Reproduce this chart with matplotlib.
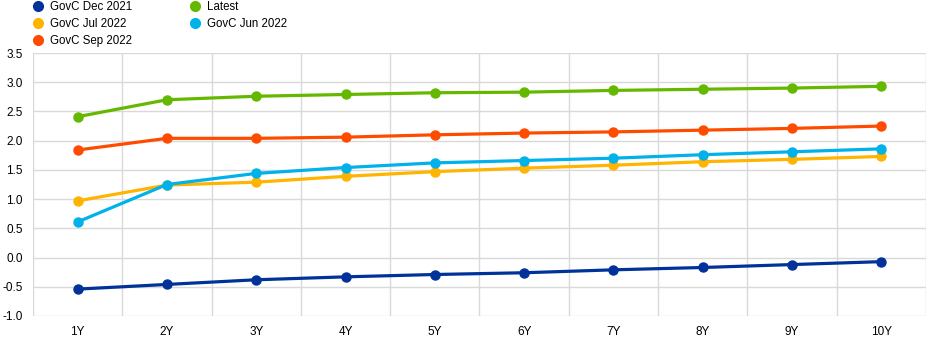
import matplotlib.pyplot as plt
from matplotlib.lines import Line2D

plt.rcParams['font.family'] = ['Liberation Sans', 'DejaVu Sans']

# tenors and yield curves (%)
tenors = ["1Y", "2Y", "3Y", "4Y", "5Y", "6Y", "7Y", "8Y", "9Y", "10Y"]
govc_dec_2021 = [-0.54, -0.46, -0.38, -0.33, -0.29, -0.26, -0.21, -0.17, -0.12, -0.07]
govc_jul_2022 = [0.97, 1.24, 1.29, 1.39, 1.47, 1.53, 1.58, 1.64, 1.68, 1.73]
govc_sep_2022 = [1.84, 2.04, 2.04, 2.06, 2.10, 2.13, 2.15, 2.18, 2.21, 2.25]
latest = [2.41, 2.70, 2.76, 2.79, 2.82, 2.83, 2.86, 2.88, 2.90, 2.93]
govc_jun_2022 = [0.61, 1.25, 1.44, 1.54, 1.62, 1.66, 1.70, 1.76, 1.81, 1.86]

series = [
    ("GovC Dec 2021", govc_dec_2021, "#003299"),
    ("GovC Jul 2022", govc_jul_2022, "#FFB400"),
    ("GovC Sep 2022", govc_sep_2022, "#FF4B00"),
    ("Latest", latest, "#65B800"),
    ("GovC Jun 2022", govc_jun_2022, "#00B1EA"),
]

fig = plt.figure(figsize=(9.37, 3.43), dpi=100)
ax = fig.add_axes([33 / 937, 27 / 343, 893 / 937, 263 / 343])

x = list(range(len(tenors)))
handles = []
for name, vals, col in series:
    ax.plot(x, vals, color=col, lw=2.3, marker="o", ms=6.5, zorder=3)
    handles.append(Line2D([], [], color=col, marker="o", ls="none", ms=7))

ax.set_xlim(-0.5, len(tenors) - 0.5)
ax.set_ylim(-1.0, 3.5)
ax.set_xticks(x)
ax.set_xticklabels(tenors)
ax.set_xticks([i + 0.5 for i in range(-1, len(tenors))], minor=True)
ax.set_yticks([-1.0 + 0.5 * i for i in range(10)])
ax.set_yticklabels([f"{-1.0 + 0.5 * i:.1f}" for i in range(10)])
ax.grid(True, which="minor", axis="x", color="#d9d9d9", lw=1)
ax.grid(True, which="major", axis="y", color="#d9d9d9", lw=1)
ax.tick_params(which="both", length=0, labelsize=8.5, colors="#000000")
ax.tick_params(axis="x", pad=7)
ax.tick_params(axis="y", pad=7.5)
for s in ["top", "right", "left", "bottom"]:
    ax.spines[s].set_visible(False)
ax.set_axisbelow(True)

fig.legend(handles, [s[0] for s in series], ncol=2, loc="upper left",
           bbox_to_anchor=(33 / 937, 1.0 - 1 / 343), frameon=False, fontsize=8.3,
           handlelength=0.8, handletextpad=0.7, columnspacing=5.0,
           labelspacing=0.42, borderaxespad=0, borderpad=0)

fig.savefig("out.png", dpi=100)
